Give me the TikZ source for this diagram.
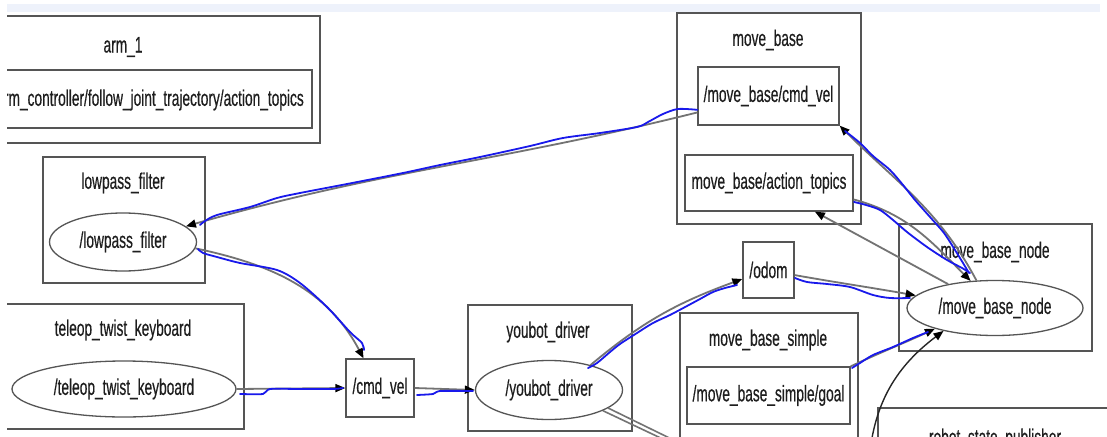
\documentclass[tikz,border=0pt]{standalone}
\usepackage{fontspec}
\setmainfont{Liberation Sans}[FakeStretch=0.61,FakeBold=0.4]
\usetikzlibrary{arrows.meta,shapes.geometric}
\definecolor{frame}{RGB}{85,85,85}
\definecolor{edgegray}{RGB}{115,115,115}
\definecolor{penblue}{RGB}{25,25,235}
\definecolor{band}{RGB}{238,242,251}
\definecolor{txt}{RGB}{30,30,30}
\begin{document}
\begin{tikzpicture}[x=1pt,y=-1pt,
  every node/.style={font=\fontsize{22.5}{24}\selectfont, text=txt},
  cluster/.style={draw=frame,line width=1.3pt},
  topic/.style={draw=frame,line width=1.3pt,rectangle,inner sep=0pt},
  rosnode/.style={draw=frame,line width=1.3pt,ellipse,inner sep=0pt},
  ttl/.style={inner sep=0pt},
  link/.style={draw=edgegray,line width=1.8pt,-{Triangle[length=10pt,width=8pt,color=black]}},
  darklink/.style={draw=black!85,line width=1.4pt,-{Triangle[length=10pt,width=8pt,color=black]}},
  plainlink/.style={draw=edgegray,line width=1.6pt},
  bluepen/.style={draw=penblue,line width=1.8pt,line cap=round,line join=round},
]
\useasboundingbox (0,0) rectangle (1107,436);
\fill[white] (0,0) rectangle (1107,436);
\clip (7,0) rectangle (1107,436);
\fill[band] (7,4) rectangle (1100,12);

% clusters
\draw[cluster] (-20,16) rectangle (320,143);
\node[ttl] (armT) at (123,47) {arm\_1};
\draw[cluster] (-20,70) rectangle (312,128);
\node[ttl,anchor=east] (armtopic) at (304,100) {/arm\_1/arm\_controller/follow\_joint\_trajectory/action\_topics};

\draw[cluster] (677,13) rectangle (861,224);
\node[ttl] (mbT) at (768,40) {move\_base};

\draw[cluster] (43,157) rectangle (205,283);
\node[ttl] (lpT) at (123,183) {lowpass\_filter};

\draw[cluster] (-20,304) rectangle (244,429);
\node[ttl] (tkT) at (123,330) {teleop\_twist\_keyboard};

\draw[cluster] (468,305) rectangle (632,431);
\node[ttl] (ydT) at (548,332) {youbot\_driver};

\draw[cluster] (680,313) rectangle (858,470);
\node[ttl] (mbsT) at (768,340) {move\_base\_simple};

\draw[cluster] (899,224) rectangle (1092,351);
\node[ttl] (mbnT) at (995,252) {move\_base\_node};

\draw[cluster] (878,408) rectangle (1130,480);
\node[ttl] (rspT) at (995,439) {robot\_state\_publisher};

% nodes and topics
\node[rosnode,minimum width=147pt,minimum height=58pt] (lp) at (123,242) {/lowpass\_filter};
\node[rosnode,minimum width=224pt,minimum height=56pt] (tk) at (124,389) {/teleop\_twist\_keyboard};
\node[rosnode,minimum width=147pt,minimum height=59pt] (yd) at (549,390) {/youbot\_driver};
\node[rosnode,minimum width=176pt,minimum height=55pt] (mbn) at (995,308) {/move\_base\_node};

\node[topic,minimum width=68pt,minimum height=58pt] (cmdvel) at (380,388) {/cmd\_vel};
\node[topic,minimum width=141pt,minimum height=58pt] (mbcmd) at (768.5,96) {/move\_base/cmd\_vel};
\node[topic,minimum width=168pt,minimum height=56pt] (mbact) at (769,183) {move\_base/action\_topics};
\node[topic,minimum width=51pt,minimum height=56pt] (odom) at (768.5,270) {/odom};
\node[topic,minimum width=163pt,minimum height=57pt] (goal) at (768.5,395.5) {/move\_base\_simple/goal};

\coordinate (rspout) at (869,460);
\coordinate (ydout1) at (686,450);
\coordinate (ydout2) at (694,450);

% grey edges
\draw[link] (mbcmd.193) to[out=194,in=16] (lp.14);
\draw[link] (lp.-5) to[out=-12,in=118] (cmdvel.119);
\draw[link] (tk.east) -- (cmdvel.west);
\draw[link] (cmdvel.east) -- (yd.west);
\draw[link] (yd.31) to[out=40,in=200] (odom.199);
\draw[link] (odom.-11) to[out=-10,in=170] (mbn.171);
\draw[link] (mbn.153) -- (mbact.-32);
\draw[link] (mbact.-11) to[out=-15,in=135] (mbn.132);
\draw[link] (mbn.124) to[out=118,in=-45] (mbcmd.south east);
\draw[link] (goal.north east) to[out=25,in=205] (mbn.199);
\draw[darklink] (rspout) to[out=85,in=217] (mbn.204);
\draw[plainlink] (yd.-21) -- (ydout1);
\draw[plainlink] (yd.-17) -- (ydout2);

% blue hand-drawn strokes
\draw[bluepen] plot[smooth,tension=0.5] coordinates {(mbcmd.191) (678,109) (663,114) (648,122) (637,127) (600,133) (563,138) (530,146) (480,157) (440,165) (403,173) (347,184) (300,193) (277,198) (250,207) (217,215) (205,221) (200,225)};
\draw[bluepen] plot[smooth,tension=0.5] coordinates {(198,249) (203,253) (217,257) (240,263) (277,270) (300,283) (327,307) (350,332) (362,343) (364,350)};
\draw[bluepen] plot[smooth,tension=0.4] coordinates {(240,394) (263,394) (270,389) (300,389) (333,389) (343,388)};
\draw[bluepen] plot[smooth,tension=0.4] coordinates {(417,395) (433,394) (440,391) (473,391)};
\draw[bluepen] plot[smooth,tension=0.5] coordinates {(588,368) (597,363) (610,352) (620,344) (637,333) (653,323) (670,315) (687,306) (700,299) (713,292) (725,288) (737,285)};
\draw[bluepen] plot[smooth,tension=0.5] coordinates {(795,278) (807,282) (827,284) (850,287) (873,295) (890,298) (910,298)};
\draw[bluepen] plot[smooth,tension=0.5] coordinates {(854,202) (866,205) (880,210) (893,220) (907,232) (927,247) (947,260) (962,268) (970,273)};
\draw[bluepen] plot[smooth,tension=0.5] coordinates {(969,273) (963,263) (955,250) (944,233) (930,217) (915,200) (903,185) (890,170) (873,156) (860,143) (845,131)};
\draw[bluepen] plot[smooth,tension=0.5] coordinates {(852,368) (860,363) (873,355) (893,347) (913,338) (928,332)};
\end{tikzpicture}
\end{document}
